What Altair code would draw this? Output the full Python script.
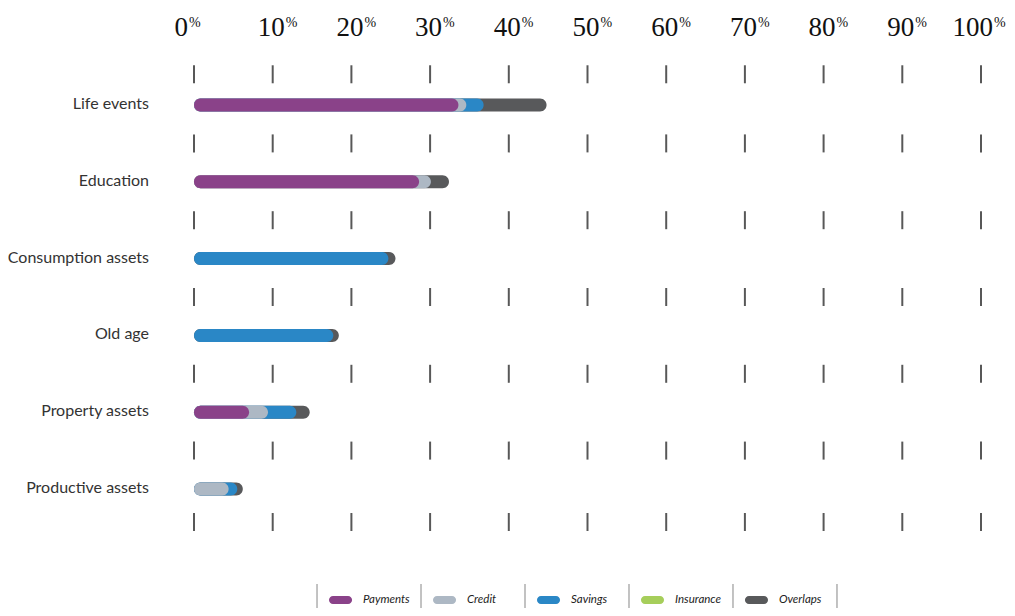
import altair as alt
import pandas as pd

categories = ["Life events", "Education", "Consumption assets", "Old age",
              "Property assets", "Productive assets"]
series = ["Payments", "Credit", "Savings", "Insurance", "Overlaps"]
colors = ["#8a4289", "#adb8c4", "#2a87c6", "#a6ce5b", "#58595b"]

payments = [33.6, 28.6, 0.0, 0.0, 7.0, 0.0]
credit = [1.0, 1.5, 0.0, 0.0, 2.4, 4.4]
savings = [2.2, 0.0, 24.7, 17.7, 3.6, 1.1]
insurance = [0.0, 0.0, 0.0, 0.0, 0.0, 0.0]
overlaps = [8.0, 2.3, 0.9, 0.7, 1.7, 0.7]

tick_values = [0, 10, 20, 30, 40, 50, 60, 70, 80, 90, 100]
tick_labels = ["0", "10", "20", "30", "40", "50", "60", "70", "80", "90", "100"]
tick_rows = [-0.4, 0.5, 1.5, 2.5, 3.5, 4.5, 5.43]

# ---- tables built from the arrays above ----
values_by_series = [payments, credit, savings, insurance, overlaps]
rows = []
for r, cat in enumerate(categories):
    cum = 0.0
    for s_i, s in enumerate(series):
        v = values_by_series[s_i][r]
        cum += v
        rows.append({"category": cat, "row": r, "series": s, "value": v,
                     "end": round(cum, 3), "z": len(series) - s_i})
bar_df = pd.DataFrame(rows).sort_values(["z"]).reset_index(drop=True)

cat_df = pd.DataFrame({"category": categories, "row": list(range(len(categories)))})
tick_df = pd.DataFrame([{"value": v, "row": tr} for tr in tick_rows for v in tick_values])
head_df = pd.DataFrame({"value": tick_values, "label": tick_labels})
leg_df = pd.DataFrame({"series": series, "i": list(range(len(series)))})
sep_df = pd.DataFrame({"i": list(range(len(series) + 1))})

XS = alt.Scale(domain=[0, 100], nice=False, zero=False, padding=0)
YS = alt.Scale(domain=[-1.263, 6.5495], reverse=True, nice=False, zero=False, padding=0)
LS = alt.Scale(domain=[-1.183, 6.385], nice=False, zero=False, padding=0)
CS = alt.Scale(domain=series, range=colors)

HEAD_Y = -0.898
LEG_Y = 6.445

bars = alt.Chart(bar_df).transform_filter("datum.value > 0").mark_bar(
    height=13, cornerRadius=6.5
).encode(
    x=alt.X("end:Q", scale=XS, axis=None, stack=None),
    x2=alt.X2Datum(0),
    y=alt.Y("row:Q", scale=YS, axis=None),
    color=alt.Color("series:N", scale=CS, legend=None),
    order=alt.Order("z:Q"),
)

ticks = alt.Chart(tick_df).mark_tick(
    orient="vertical", size=18, thickness=2, color="#111111"
).encode(
    x=alt.X("value:Q", scale=XS, axis=None),
    y=alt.Y("row:Q", scale=YS, axis=None),
)

head = alt.Chart(head_df)
num_font = dict(font="Liberation Serif", fontSize=27, color="#111111", baseline="alphabetic")
pct_font = dict(font="Liberation Serif", fontSize=14, color="#111111", baseline="alphabetic")
henc = dict(x=alt.X("value:Q", scale=XS, axis=None),
            y=alt.YDatum(HEAD_Y, scale=YS, axis=None))

num0 = head.transform_filter("datum.value == 0").mark_text(
    align="right", dx=-6, **num_font).encode(text="label:N", **henc)
num1 = head.transform_filter("datum.value != 0").mark_text(
    align="right", dx=12, **num_font).encode(text="label:N", **henc)
pct0 = head.transform_filter("datum.value == 0").mark_text(
    align="left", dx=-5, dy=-9, **pct_font).encode(text=alt.value("%"), **henc)
pct1 = head.transform_filter("datum.value != 0").mark_text(
    align="left", dx=13, dy=-9, **pct_font).encode(text=alt.value("%"), **henc)

ylabels = alt.Chart(cat_df).mark_text(
    align="right", baseline="middle", dx=-45, dy=-1,
    font="Lato", fontSize=16, color="#333333"
).encode(
    x=alt.XDatum(0, scale=XS, axis=None),
    y=alt.Y("row:Q", scale=YS, axis=None),
    text="category:N",
)

main = alt.layer(bars, ticks, num0, num1, pct0, pct1, ylabels)

pills = alt.Chart(leg_df).transform_calculate(
    a="datum.i + 0.115", b="datum.i + 0.337"
).mark_bar(height=8, cornerRadius=4).encode(
    x=alt.X("a:Q", scale=LS, axis=None),
    x2="b:Q",
    y=alt.YDatum(LEG_Y, scale=YS, axis=None),
    color=alt.Color("series:N", scale=CS, legend=None),
)
leg_text = alt.Chart(leg_df).mark_text(
    align="left", baseline="middle", dx=46, dy=0,
    font="Lato", fontSize=11.5, fontStyle="italic", color="#222222"
).encode(
    x=alt.X("i:Q", scale=LS, axis=None),
    y=alt.YDatum(LEG_Y, scale=YS, axis=None),
    text="series:N",
)
seps = alt.Chart(sep_df).mark_tick(
    orient="vertical", size=32, thickness=1.5, color="#8c8c8c"
).encode(
    x=alt.X("i:Q", scale=LS, axis=None),
    y=alt.YDatum(LEG_Y, scale=YS, axis=None),
)
legend = alt.layer(seps, pills, leg_text)

chart = alt.layer(main, legend).resolve_scale(x="independent").properties(
    width=787, height=600,
    autosize=alt.AutoSizeParams(type="none"),
    padding={"left": 186, "top": 0, "right": 26, "bottom": 0},
).configure_view(stroke=None)

chart.save("out.html", embed_options={"renderer": "svg", "actions": False})
